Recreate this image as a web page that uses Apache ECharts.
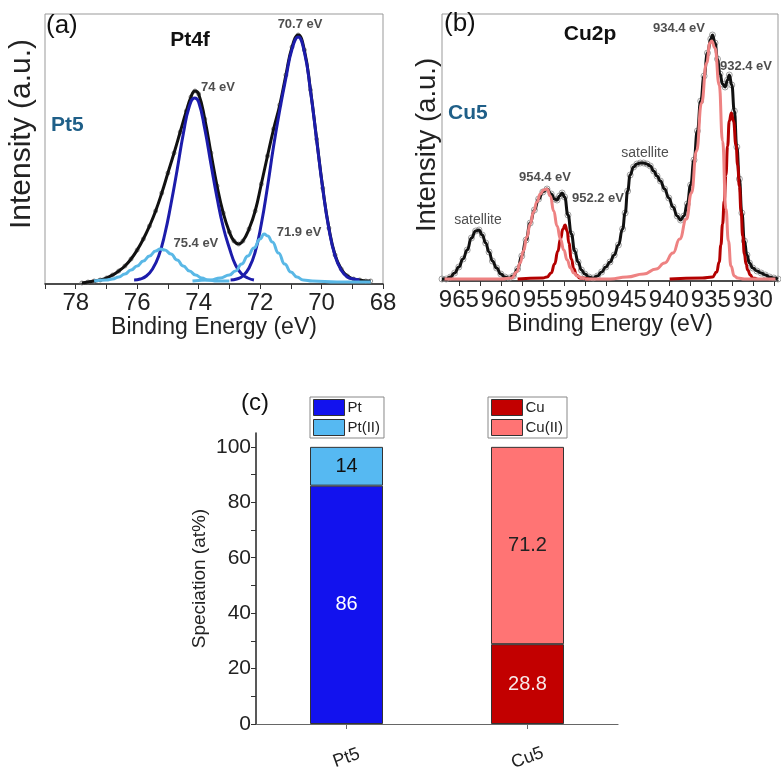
<!DOCTYPE html>
<html>
<head>
<meta charset="UTF-8">
<title>XPS Pt4f / Cu2p and speciation</title>
<script src="https://cdn.jsdelivr.net/npm/echarts@6.0.0/dist/echarts.min.js"></script>
<style>
  html, body { margin: 0; padding: 0; background: #fff; }
  #main { width: 781px; height: 770px; }
</style>
</head>
<body>
<div id="main"></div>
<script>
// ---------- (a) Pt4f : [binding energy (eV), intensity (a.u.)] ----------
var ptEnvelope = [[77.8,1],[77.6,2],[77.4,3],[77.2,4],[77.0,6],[76.8,9],[76.6,13],[76.4,18],[76.2,25],[76.0,34],
  [75.8,45],[75.6,58],[75.4,73],[75.2,91],[75.0,111],[74.8,131],[74.6,152],[74.4,173],[74.25,187],[74.12,193],
  [74.0,190],[73.8,165],[73.6,131],[73.4,98],[73.2,71],[73.0,52],[72.85,43],[72.7,40],[72.56,43],[72.36,55],
  [72.16,73],[71.96,100],[71.76,128],[71.56,155],[71.36,179],[71.16,209],[70.96,237],[70.76,249],[70.56,234],[70.36,194],
  [70.16,145],[69.96,96],[69.76,56],[69.56,29],[69.36,15],[69.16,8],[68.96,5],[68.76,4],[68.56,3],[68.4,3]];
var ptMetal72 = [[72.96,4],[72.76,5],[72.56,8],[72.36,16],[72.16,32],[71.96,60],[71.76,97],[71.56,138],[71.36,174],[71.16,206],
  [70.96,235],[70.76,247],[70.56,232],[70.36,193],[70.16,144],[69.96,95],[69.76,55],[69.56,28],[69.36,14],[69.16,7],
  [68.96,5],[68.76,4]];
var ptMetal52 = [[76.1,4],[75.9,5],[75.7,8],[75.5,15],[75.3,28],[75.1,50],[74.9,80],[74.7,114],[74.5,150],[74.3,178],
  [74.13,186],[74.0,182],[73.8,155],[73.6,120],[73.4,86],[73.2,57],[73.0,36],[72.8,19],[72.6,10],[72.4,6],[72.2,4]];
var ptOx52 = [[77.4,3],[77.0,4],[76.8,5],[76.6,7],[76.4,10],[76.2,14],[76.0,18],[75.8,23],[75.6,28],[75.4,33],
  [75.25,35],[75.1,34],[74.9,30],[74.7,24],[74.5,18],[74.3,13],[74.1,9],[73.9,6],[73.7,4],[73.4,3],[73.0,3]];
var ptOx72 = [[74.2,3],[73.6,4],[73.3,6],[73.0,9],[72.8,13],[72.6,20],[72.4,28],[72.2,36],[72.0,45],[71.87,50],
  [71.75,48],[71.6,42],[71.4,31],[71.2,20],[71.0,12],[70.8,7],[70.6,4],[70.3,3],[69.5,2],[68.4,2]];
var ptPeakLabels = [[70.70,260,'70.7 eV'],[73.37,197,'74 eV'],[74.09,41,'75.4 eV'],[70.73,52,'71.9 eV']];
var ptTicks = [68,69,70,71,72,73,74,75,76,77,78,79];
var ptTickLabels = [68,70,72,74,76,78];

// ---------- (b) Cu2p ----------
var cuEnvelope = [[967,2],[966.5,2],[966,4],[965.5,8],[965,14],[964.5,22],[964,31],[963.5,43],[963,50],[962.6,51],
  [962.2,46],[961.8,38],[961.4,29],[961,20],[960.5,13],[960,7],[959.5,4],[959,3],[958.5,5],[958,12],
  [957.5,25],[957,41],[956.5,58],[956,71],[955.5,82],[955,89],[954.5,92],[954,87],[953.6,82],[953.3,81],
  [953,85],[952.7,88],[952.4,84],[952,66],[951.6,47],[951.2,30],[950.8,19],[950.4,11],[950,7],[949.5,4],
  [949,3],[948.5,5],[948,9],[947.5,14],[947,19],[946.5,26],[946,36],[945.5,52],[945.2,68],[944.9,90],
  [944.6,106],[944.2,114],[943.8,117],[943.4,118],[943,118],[942.6,117],[942.2,115],[941.8,110],[941.4,105],[941,100],
  [940.5,92],[940,83],[939.5,74],[939,65],[938.6,61],[938.2,65],[937.8,77],[937.4,96],[937,121],[936.6,150],
  [936.2,180],[935.8,205],[935.4,228],[935,242],[934.8,246],[934.5,238],[934.2,222],[933.9,207],[933.6,197],[933.3,194],
  [933,201],[932.8,206],[932.5,196],[932.2,170],[931.9,134],[931.6,102],[931.3,68],[931,40],[930.7,26],[930.4,18],
  [930,13],[929.5,10],[929,8],[928.5,6],[928,4],[927.5,3],[927,2]];
var cuOx32 = [[950,2],[947,2],[945,4],[943,7],[941.5,12],[940.5,18],[939.5,28],[938.7,42],[937.9,62],[937.3,88],
  [936.7,130],[936.1,178],[935.5,218],[935.1,238],[934.9,240],[934.5,233],[934.0,196],[933.6,140],[933.2,72],[932.9,40],
  [932.6,15],[932.2,5],[931.8,3],[931.0,2],[927.3,2]];
var cuOx12 = [[966.7,2],[960,2],[958.7,3],[958.1,9],[957.7,18],[957.3,30],[956.9,44],[956.5,57],[956.1,69],[955.7,79],
  [955.3,87],[954.9,91],[954.5,92],[954.1,85],[953.7,70],[953.3,55],[952.9,42],[952.5,31],[952.1,21],[951.7,13],
  [951.3,8],[950.9,5],[950.3,3],[950,2]];
var cuMetal32 = [[939.9,2],[936,3],[934.8,4],[934.3,9],[934.0,19],[933.8,36],[933.6,57],[933.4,80],[933.2,106],[933.0,135],
  [932.8,160],[932.55,168],[932.3,160],[932.0,136],[931.8,116],[931.6,95],[931.4,70],[931.2,45],[931.0,27],[930.8,17],
  [930.6,11],[930.3,6],[930.0,3],[929.5,2]];
var cuMetal12 = [[958,2],[955,3],[954.5,4],[954.0,8],[953.6,17],[953.2,30],[952.9,42],[952.6,52],[952.35,56],[952.1,50],
  [951.9,38],[951.6,22],[951.3,12],[951.0,6],[950.6,3],[949.5,2]];
var cuPeakLabels = [[938.79,253,'934.4 eV'],[930.81,215,'932.4 eV'],[954.74,104,'954.4 eV'],[948.43,83,'952.2 eV']];
var cuSatLabels = [[942.83,128,'satellite'],[962.71,61,'satellite']];
var cuTicks = [927.5,930,932.5,935,937.5,940,942.5,945,947.5,950,952.5,955,957.5,960,962.5,965];
var cuTickLabels = [930,935,940,945,950,955,960,965];

// ---------- (c) speciation (at%) ----------
var samples = ['Pt5', 'Cu5'];
var ptShare = [86, '-'];
var pt2Share = [14, '-'];
var cuShare = ['-', 28.8];
var cu2Share = ['-', 71.2];
var speciationTicks = [0,10,20,30,40,50,60,70,80,90,100];
var speciationLabels = [0,20,40,60,80,100];

var FONT = 'Liberation Sans, Arial, sans-serif';
var TEAL = '#1f5f88';

function curve(data, color, xi, width, mono) {
  return {
    type: 'line', xAxisIndex: xi, yAxisIndex: xi, data: data,
    showSymbol: false, smooth: 0.5, smoothMonotone: mono ? 'x' : null, silent: true,
    lineStyle: { color: color, width: width || 3 }
  };
}
function dots(data, xi, size, color) {
  return {
    type: 'scatter', xAxisIndex: xi, yAxisIndex: xi, data: data, silent: true,
    symbol: 'circle', symbolSize: size,
    itemStyle: { color: 'transparent', borderColor: color, borderWidth: 1 }
  };
}
function notes(list, xi, bold, size) {
  return {
    type: 'scatter', xAxisIndex: xi, yAxisIndex: xi, silent: true, symbolSize: 0, z: 10,
    data: list.map(function (d) { return { value: [d[0], d[1]], name: d[2] }; }),
    label: { show: true, position: 'inside', formatter: '{b}', color: '#222',
      fontFamily: FONT, fontSize: size, fontWeight: bold ? 'bold' : 'normal' }
  };
}
function specXAxis(gi, min, max, ticks, labels) {
  return {
    type: 'value', gridIndex: gi, min: min, max: max, inverse: true,
    name: 'Binding Energy (eV)', nameLocation: 'middle', nameGap: gi === 0 ? 27 : 26,
    nameTextStyle: { fontFamily: FONT, fontSize: 23, color: '#222' },
    axisLine: { show: true, lineStyle: { color: '#222', width: 1.5 } },
    axisTick: { show: true, inside: false, length: 5, customValues: ticks, lineStyle: { color: '#333' } },
    axisLabel: { customValues: labels, margin: 7, fontFamily: FONT, fontSize: 24, color: '#222' },
    splitLine: { show: false }
  };
}
function specYAxis(gi, max) {
  return {
    type: 'value', gridIndex: gi, min: 0, max: max,
    axisLine: { show: false }, axisTick: { show: false },
    axisLabel: { show: false }, splitLine: { show: false }
  };
}
function legendBox(names, left) {
  return {
    data: names, orient: 'vertical', left: left, top: 397, icon: 'rect',
    itemWidth: 31, itemHeight: 16, itemGap: 3, padding: [2, 4, 2, 3],
    borderColor: '#888', borderWidth: 1, selectedMode: false,
    itemStyle: { borderColor: '#333', borderWidth: 1 },
    textStyle: { fontFamily: FONT, fontSize: 15, color: '#222', padding: [0, 0, 0, -2] }
  };
}

var option = {
  backgroundColor: '#fff',
  animation: false,
  textStyle: { fontFamily: FONT },
  grid: [
    { left: 45, top: 14, width: 338, height: 270, show: true, borderColor: '#999', borderWidth: 1, containLabel: false, outerBoundsMode: 'none' },
    { left: 442, top: 14, width: 336, height: 267, show: true, borderColor: '#999', borderWidth: 1, containLabel: false, outerBoundsMode: 'none' },
    { left: 256, top: 433, width: 362, height: 291, containLabel: false, outerBoundsMode: 'none' }
  ],
  xAxis: [
    specXAxis(0, 68, 79, ptTicks, ptTickLabels),
    specXAxis(1, 927, 967, cuTicks, cuTickLabels),
    {
      type: 'category', gridIndex: 2, data: samples,
      axisLine: { lineStyle: { color: '#666', width: 1.2 } },
      axisTick: { show: true, alignWithLabel: true, length: 5, lineStyle: { color: '#666' } },
      axisLabel: { rotate: 20, margin: 34, align: 'center', verticalAlign: 'middle',
        fontFamily: FONT, fontSize: 18, color: '#222' }
    }
  ],
  yAxis: [
    specYAxis(0, 270),
    specYAxis(1, 267),
    {
      type: 'value', gridIndex: 2, min: 0, max: 105,
      name: 'Speciation (at%)', nameLocation: 'middle', nameGap: 47, nameRotate: 90,
      nameTextStyle: { fontFamily: FONT, fontSize: 19, color: '#222' },
      axisLine: { show: true, lineStyle: { color: '#222', width: 1.5 } },
      axisTick: { show: true, length: 5, customValues: speciationTicks, lineStyle: { color: '#333' } },
      axisLabel: { customValues: speciationLabels, margin: 5, fontFamily: FONT, fontSize: 21, color: '#222' },
      splitLine: { show: false }
    }
  ],
  legend: [legendBox(['Pt', 'Pt(II)'], 310), legendBox(['Cu', 'Cu(II)'], 488)],
  graphic: [
    { type: 'text', x: 46, y: 26, style: { text: '(a)', fontFamily: FONT, fontSize: 26, fill: '#111', align: 'left', verticalAlign: 'middle' } },
    { type: 'text', x: 190, y: 40, style: { text: 'Pt4f', fontFamily: FONT, fontSize: 21, fontWeight: 'bold', fill: '#111', align: 'center', verticalAlign: 'middle' } },
    { type: 'text', x: 51, y: 125, style: { text: 'Pt5', fontFamily: FONT, fontSize: 21, fontWeight: 'bold', fill: TEAL, align: 'left', verticalAlign: 'middle' } },
    { type: 'text', x: 22, y: 134, rotation: Math.PI / 2, style: { text: 'Intensity (a.u.)', fontFamily: FONT, fontSize: 30, fill: '#222', align: 'center', verticalAlign: 'middle' } },
    { type: 'text', x: 444, y: 24, style: { text: '(b)', fontFamily: FONT, fontSize: 26, fill: '#111', align: 'left', verticalAlign: 'middle' } },
    { type: 'text', x: 590, y: 34, style: { text: 'Cu2p', fontFamily: FONT, fontSize: 21, fontWeight: 'bold', fill: '#111', align: 'center', verticalAlign: 'middle' } },
    { type: 'text', x: 448, y: 113, style: { text: 'Cu5', fontFamily: FONT, fontSize: 21, fontWeight: 'bold', fill: TEAL, align: 'left', verticalAlign: 'middle' } },
    { type: 'text', x: 427, y: 145, rotation: Math.PI / 2, style: { text: 'Intensity (a.u.)', fontFamily: FONT, fontSize: 27.5, fill: '#222', align: 'center', verticalAlign: 'middle' } },
    { type: 'text', x: 241, y: 403, style: { text: '(c)', fontFamily: FONT, fontSize: 24, fill: '#111', align: 'left', verticalAlign: 'middle' } }
  ],
  series: [
    // (a) Pt4f
    curve(ptEnvelope, '#111', 0, 3, false),
    curve(ptMetal52, '#1c1cab', 0, 3, false),
    curve(ptMetal72, '#1c1cab', 0, 3, false),
    curve(ptOx52, '#5ab8e6', 0, 3, true),
    curve(ptOx72, '#5ab8e6', 0, 3, true),
    dots(ptEnvelope, 0, 4, '#777'),
    notes(ptPeakLabels, 0, true, 13),
    // (b) Cu2p
    curve(cuEnvelope, '#111', 1, 3, true),
    curve(cuMetal12, '#b30000', 1, 3, true),
    curve(cuMetal32, '#b30000', 1, 3, true),
    curve(cuOx12, '#ee8282', 1, 3, true),
    curve(cuOx32, '#ee8282', 1, 3, true),
    dots(cuEnvelope, 1, 6, '#8a8a8a'),
    notes(cuPeakLabels, 1, true, 13),
    notes(cuSatLabels, 1, false, 14),
    // (c) speciation
    { name: 'Pt', type: 'bar', xAxisIndex: 2, yAxisIndex: 2, stack: 'at', barWidth: 73, data: ptShare,
      itemStyle: { color: '#1212ee', borderColor: '#333', borderWidth: 1 },
      label: { show: true, position: 'inside', color: '#fff', fontFamily: FONT, fontSize: 20 } },
    { name: 'Pt(II)', type: 'bar', xAxisIndex: 2, yAxisIndex: 2, stack: 'at', barWidth: 73, data: pt2Share,
      itemStyle: { color: '#56b9f2', borderColor: '#333', borderWidth: 1 },
      label: { show: true, position: 'inside', color: '#111', fontFamily: FONT, fontSize: 20 } },
    { name: 'Cu', type: 'bar', xAxisIndex: 2, yAxisIndex: 2, stack: 'at', barWidth: 73, data: cuShare,
      itemStyle: { color: '#c20000', borderColor: '#333', borderWidth: 1 },
      label: { show: true, position: 'inside', color: '#f8e8e8', fontFamily: FONT, fontSize: 20 } },
    { name: 'Cu(II)', type: 'bar', xAxisIndex: 2, yAxisIndex: 2, stack: 'at', barWidth: 73, data: cu2Share,
      itemStyle: { color: '#ff7474', borderColor: '#333', borderWidth: 1 },
      label: { show: true, position: 'inside', color: '#222', fontFamily: FONT, fontSize: 20 } }
  ]
};

var chart = echarts.init(document.getElementById('main'), null, { renderer: 'canvas' });
chart.setOption(option);
</script>
</body>
</html>
